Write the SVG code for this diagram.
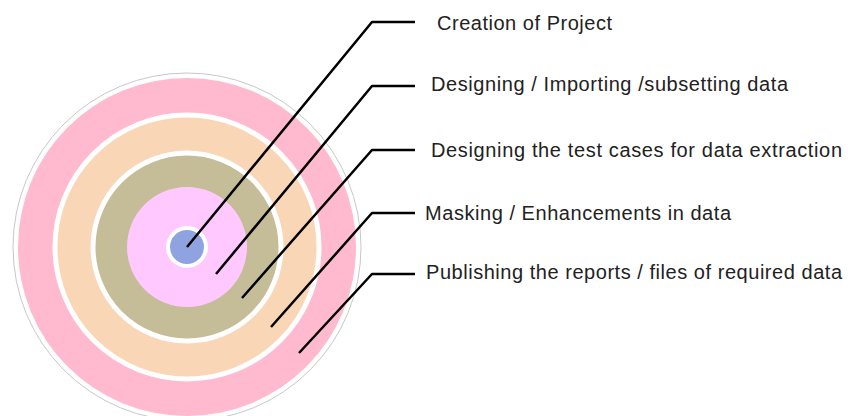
<svg xmlns="http://www.w3.org/2000/svg" width="848" height="416" viewBox="0 0 848 416">
<style>
.lbl{font-family:"Liberation Sans",Arial,sans-serif;font-size:20px;fill:#222}
.ld{fill:none;stroke:#000;stroke-width:2.5;stroke-linejoin:round}
.sep{stroke:#fff;stroke-width:5}
</style>
<rect width="848" height="416" fill="#fff"/>
<g id="ring-outer">
<circle cx="187" cy="247" r="174" fill="#fff" stroke="#c8c8c8" stroke-width="1"/>
<circle cx="187" cy="247" r="169" fill="#FFBACF"/>
</g>
<g id="ring-orange"><circle class="sep" cx="187" cy="247" r="132" fill="#F9D6B5"/></g>
<g id="ring-olive"><circle class="sep" cx="187" cy="247" r="94" fill="#C4BD97"/></g>
<g id="ring-lightpink"><circle cx="187" cy="247" r="60" fill="#FFC9FF"/></g>
<g id="core"><circle cx="187" cy="247" r="19" fill="#8FA3E1" stroke="#fff" stroke-width="4"/></g>
<g id="connectors">
<polyline class="ld" points="187,247 372,22 415,22"/>
<polyline class="ld" points="216,274 372,86 415,86"/>
<polyline class="ld" points="242,298 372,150 415,150"/>
<polyline class="ld" points="271,327 372,213 415,213"/>
<polyline class="ld" points="299,353 372,274 415,274"/>
</g>
<g id="label-1"><text class="lbl" x="437" y="30" textLength="175" lengthAdjust="spacing">Creation of Project</text></g>
<g id="label-2"><text class="lbl" x="431" y="91" textLength="357" lengthAdjust="spacing">Designing / Importing /subsetting data</text></g>
<g id="label-3"><text class="lbl" x="431" y="157" textLength="411" lengthAdjust="spacing">Designing the test cases for data extraction</text></g>
<g id="label-4"><text class="lbl" x="425" y="220" textLength="306" lengthAdjust="spacing">Masking / Enhancements in data</text></g>
<g id="label-5"><text class="lbl" x="426" y="279" textLength="416" lengthAdjust="spacing">Publishing the reports / files of required data</text></g>
</svg>
